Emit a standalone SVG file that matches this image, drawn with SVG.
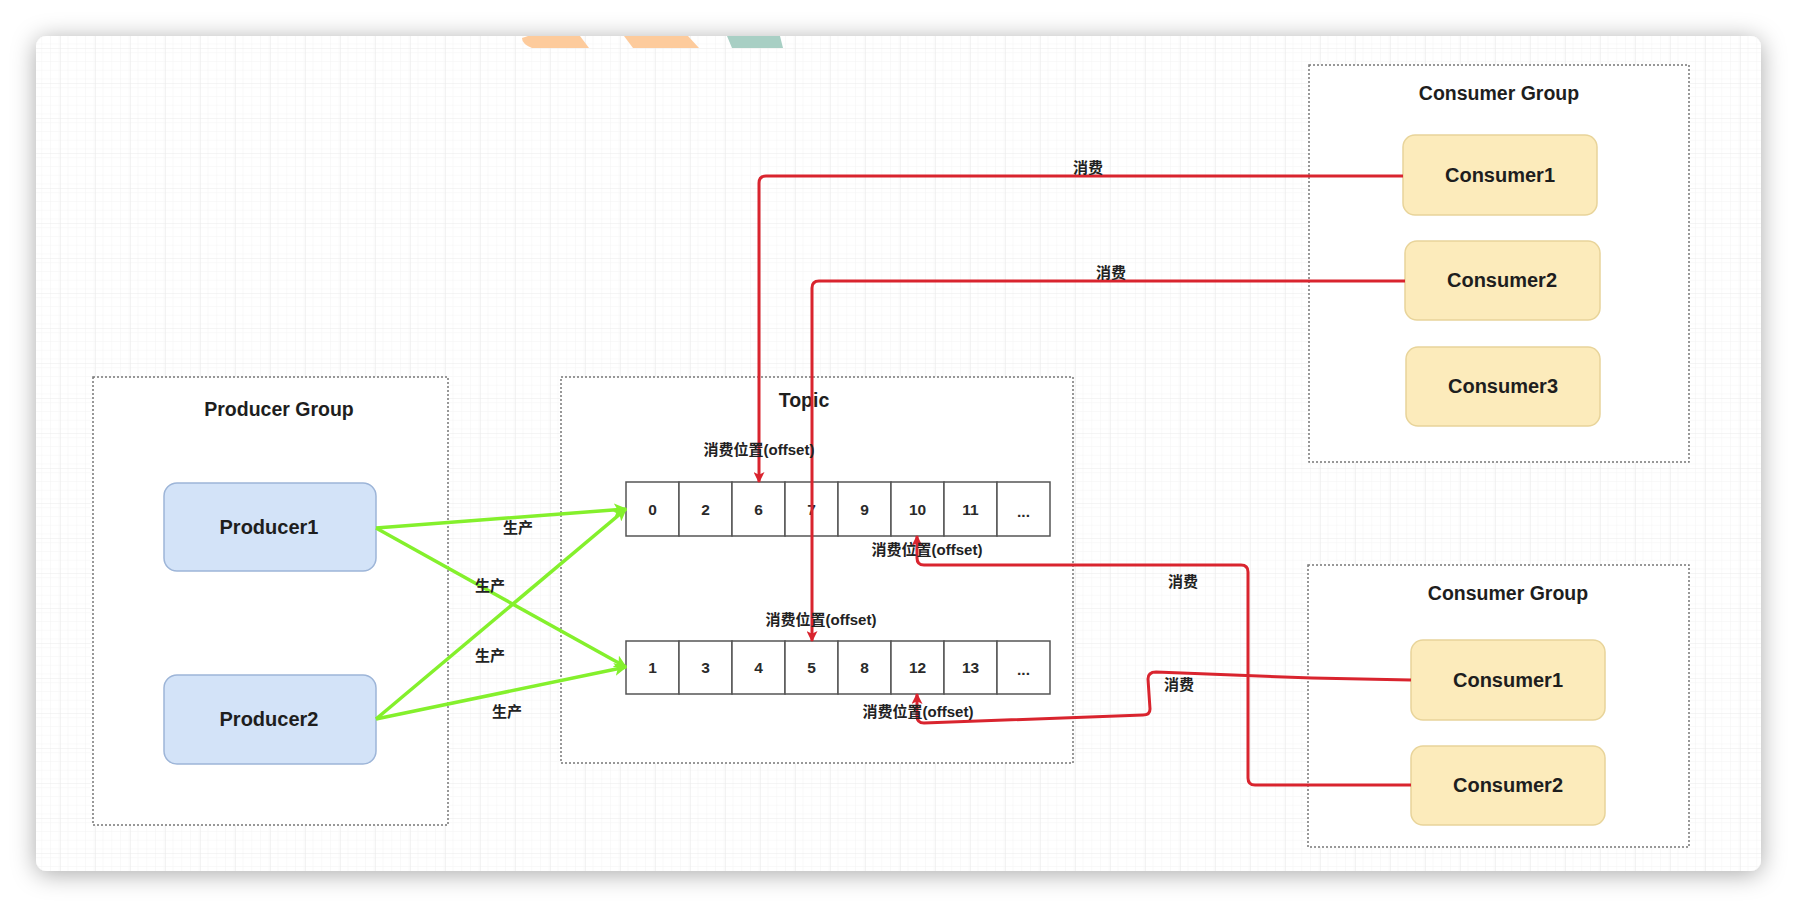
<svg xmlns="http://www.w3.org/2000/svg" width="1796" height="908" viewBox="0 0 1796 908">
<defs>
  <filter id="shadow" x="-5%" y="-10%" width="110%" height="120%">
    <feDropShadow dx="0" dy="3" stdDeviation="12" flood-color="#000" flood-opacity="0.34"/>
  </filter>
  <pattern id="minor" x="25" y="13" width="8.75" height="8.75" patternUnits="userSpaceOnUse">
    <path d="M8.75,0 L0,0 L0,8.75" fill="none" stroke="#f4f4f4" stroke-width="1"/>
  </pattern>
  <pattern id="major" x="25" y="13" width="35" height="35" patternUnits="userSpaceOnUse">
    <rect width="35" height="35" fill="url(#minor)"/>
    <path d="M35,0 L0,0 L0,35" fill="none" stroke="#ebebeb" stroke-width="1.2"/>
  </pattern>
  <marker id="arrRed" viewBox="0 0 10 10" refX="9" refY="5" markerWidth="11" markerHeight="11" markerUnits="userSpaceOnUse" orient="auto">
    <path d="M0,0 L10,5 L0,10 L2.5,5 Z" fill="#d9242e"/>
  </marker>
  <marker id="arrGreen" viewBox="0 0 10 10" refX="9" refY="5" markerWidth="13" markerHeight="13" markerUnits="userSpaceOnUse" orient="auto">
    <path d="M0,0 L10,5 L0,10 L2.5,5 Z" fill="#84f02c"/>
  </marker>
  <style>
    .grp { fill: #ffffff; stroke: #777777; stroke-width: 1.5; stroke-dasharray: 2 2; }
    .prod { fill: #d3e3f8; stroke: #9db5d8; stroke-width: 1.5; }
    .cons { fill: #fcebbb; stroke: #e8d49a; stroke-width: 1.5; }
    .cell { fill: #ffffff; stroke: #555555; stroke-width: 1.5; }
    .title { font-family: "Liberation Sans", "Noto Sans CJK SC", sans-serif; font-weight: bold; font-size: 19.5px; fill: #1e1e1e; text-anchor: middle; dominant-baseline: central; }
    .node { font-family: "Liberation Sans", "Noto Sans CJK SC", sans-serif; font-weight: bold; font-size: 20px; fill: #1e1e1e; text-anchor: middle; dominant-baseline: central; }
    .num { font-family: "Liberation Sans", sans-serif; font-weight: bold; font-size: 15.5px; fill: #2a2a2a; text-anchor: middle; dominant-baseline: central; }
    .lbl { font-family: "Liberation Sans", "Noto Sans CJK SC", sans-serif; font-weight: bold; font-size: 15px; fill: #222222; text-anchor: middle; dominant-baseline: central; }
    .red { fill: none; stroke: #d9242e; stroke-width: 3; stroke-linejoin: round; marker-end: url(#arrRed); }
    .green { fill: none; stroke: #84f02c; stroke-width: 3.5; marker-end: url(#arrGreen); }
  </style>
</defs>

<!-- page background and card -->
<rect x="0" y="0" width="1796" height="908" fill="#ffffff"/>
<rect x="36" y="36" width="1725" height="835" rx="11" fill="#ffffff" filter="url(#shadow)"/>
<rect x="36" y="36" width="1725" height="835" rx="11" fill="url(#major)"/>

<!-- decorative tabs at top of card -->
<path d="M528,36 L580,36 L589,48 L532,48 Q522,44 522,38 Z" fill="#fdcb9c"/>
<path d="M624,36 L688,36 L699,48 L633,48 Z" fill="#fdcb9c"/>
<path d="M727,36 L780,36 L783,48 L732,48 Z" fill="#a8cfc4"/>

<!-- groups -->
<g id="producer-group">
  <rect class="grp" x="93" y="377" width="355" height="448"/>
  <text class="title" x="279" y="409">Producer Group</text>
</g>
<g id="topic">
  <rect class="grp" x="561" y="377" width="512" height="386"/>
  <text class="title" x="804" y="400">Topic</text>
</g>
<g id="consumer-group-1">
  <rect class="grp" x="1309" y="65" width="380" height="397"/>
  <text class="title" x="1499" y="93">Consumer Group</text>
</g>
<g id="consumer-group-2">
  <rect class="grp" x="1308" y="565" width="381" height="282"/>
  <text class="title" x="1508" y="593">Consumer Group</text>
</g>

<!-- producer nodes -->
<g id="producer1">
  <rect class="prod" x="164" y="483" width="212" height="88" rx="13"/>
  <text class="node" x="269" y="527">Producer1</text>
</g>
<g id="producer2">
  <rect class="prod" x="164" y="675" width="212" height="89" rx="13"/>
  <text class="node" x="269" y="719">Producer2</text>
</g>

<!-- consumer nodes -->
<g id="consumer1-a">
  <rect class="cons" x="1403" y="135" width="194" height="80" rx="12"/>
  <text class="node" x="1500" y="175">Consumer1</text>
</g>
<g id="consumer2-a">
  <rect class="cons" x="1405" y="241" width="195" height="79" rx="12"/>
  <text class="node" x="1502" y="280">Consumer2</text>
</g>
<g id="consumer3-a">
  <rect class="cons" x="1406" y="347" width="194" height="79" rx="12"/>
  <text class="node" x="1503" y="386">Consumer3</text>
</g>
<g id="consumer1-b">
  <rect class="cons" x="1411" y="640" width="194" height="80" rx="12"/>
  <text class="node" x="1508" y="680">Consumer1</text>
</g>
<g id="consumer2-b">
  <rect class="cons" x="1411" y="746" width="194" height="79" rx="12"/>
  <text class="node" x="1508" y="785">Consumer2</text>
</g>

<!-- queue 1 -->
<g id="queue-1">
  <rect class="cell" x="626" y="482" width="53" height="54"/>
  <rect class="cell" x="679" y="482" width="53" height="54"/>
  <rect class="cell" x="732" y="482" width="53" height="54"/>
  <rect class="cell" x="785" y="482" width="53" height="54"/>
  <rect class="cell" x="838" y="482" width="53" height="54"/>
  <rect class="cell" x="891" y="482" width="53" height="54"/>
  <rect class="cell" x="944" y="482" width="53" height="54"/>
  <rect class="cell" x="997" y="482" width="53" height="54"/>
  <text class="num" x="652.5" y="509">0</text>
  <text class="num" x="705.5" y="509">2</text>
  <text class="num" x="758.5" y="509">6</text>
  <text class="num" x="811.5" y="509">7</text>
  <text class="num" x="864.5" y="509">9</text>
  <text class="num" x="917.5" y="509">10</text>
  <text class="num" x="970.5" y="509">11</text>
  <text class="num" x="1023.5" y="511">...</text>
</g>

<!-- queue 2 -->
<g id="queue-2">
  <rect class="cell" x="626" y="641" width="53" height="53"/>
  <rect class="cell" x="679" y="641" width="53" height="53"/>
  <rect class="cell" x="732" y="641" width="53" height="53"/>
  <rect class="cell" x="785" y="641" width="53" height="53"/>
  <rect class="cell" x="838" y="641" width="53" height="53"/>
  <rect class="cell" x="891" y="641" width="53" height="53"/>
  <rect class="cell" x="944" y="641" width="53" height="53"/>
  <rect class="cell" x="997" y="641" width="53" height="53"/>
  <text class="num" x="652.5" y="667">1</text>
  <text class="num" x="705.5" y="667">3</text>
  <text class="num" x="758.5" y="667">4</text>
  <text class="num" x="811.5" y="667">5</text>
  <text class="num" x="864.5" y="667">8</text>
  <text class="num" x="917.5" y="667">12</text>
  <text class="num" x="970.5" y="667">13</text>
  <text class="num" x="1023.5" y="669">...</text>
</g>

<!-- connectors -->
<g id="connectors">
  <path class="green" d="M376,528 L626,509"/>
  <path class="green" d="M376,528 L626,667"/>
  <path class="green" d="M376,719 L626,509"/>
  <path class="green" d="M376,719 L626,667"/>

  <path class="red" d="M1403,176 L766,176 Q759,176 759,183 L759,482"/>
  <path class="red" d="M1405,281 L819,281 Q812,281 812,288 L812,641"/>
  <path class="red" d="M1411,785 L1255,785 Q1248,785 1248,778 L1248,572 Q1248,565 1241,565 L924,565 Q917,565 917,558 L917,536"/>
  <path class="red" d="M1411,680 L1312,678 L1156,672 Q1148,672 1148,679 L1150,709 Q1150,715 1143,715 L924,723 Q917,723 917,716 L917,694"/>

  <text class="lbl" x="518" y="527">生产</text>
  <text class="lbl" x="490" y="585">生产</text>
  <text class="lbl" x="490" y="655">生产</text>
  <text class="lbl" x="507" y="711">生产</text>

  <text class="lbl" x="1088" y="167">消费</text>
  <text class="lbl" x="1111" y="272">消费</text>
  <text class="lbl" x="1183" y="581">消费</text>
  <text class="lbl" x="1179" y="684">消费</text>

  <text class="lbl" x="759" y="449">消费位置(offset)</text>
  <text class="lbl" x="821" y="619">消费位置(offset)</text>
  <text class="lbl" x="927" y="549">消费位置(offset)</text>
  <text class="lbl" x="918" y="711">消费位置(offset)</text>
</g>
</svg>
